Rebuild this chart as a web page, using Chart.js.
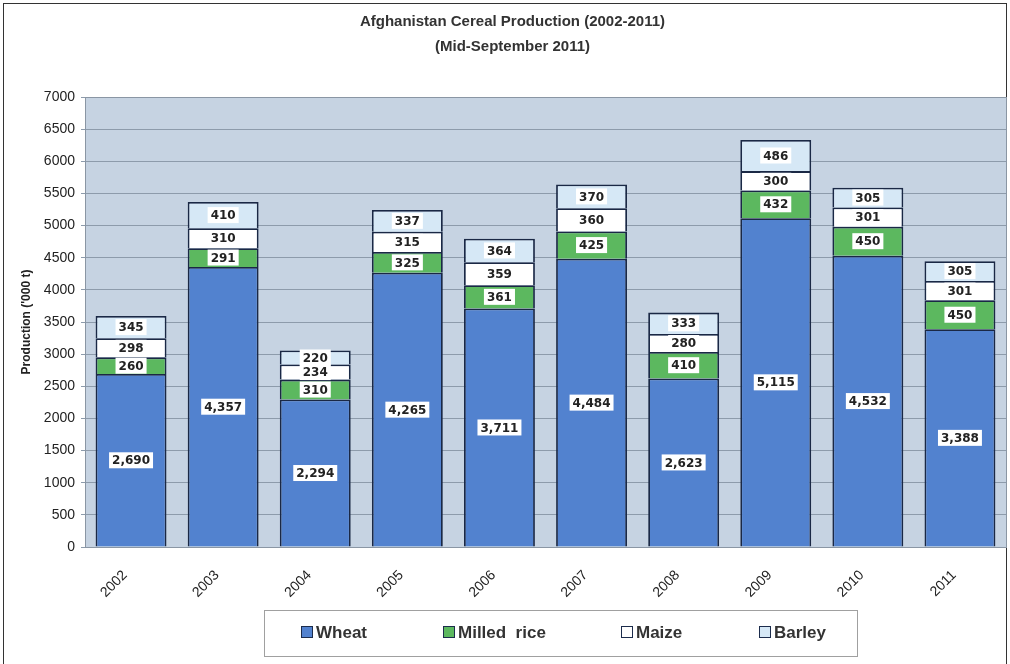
<!DOCTYPE html>
<html>
<head>
<meta charset="utf-8">
<script src="https://cdn.jsdelivr.net/npm/chart.js@4/dist/chart.umd.min.js"></script>
<style>
  html, body { margin: 0; padding: 0; background: #fff; }
  #wrap { position: relative; width: 1010px; height: 664px; }
  #legend { position: absolute; left: 264px; top: 610px; width: 592px; height: 45px; border: 1px solid #a0a0a0; font: bold 17px "Liberation Sans", Arial, sans-serif; color: #333; }
  #legend .item { position: absolute; top: 13px; white-space: pre; line-height: 18px; }
  #legend .box { display: inline-block; width: 10px; height: 10px; border: 1.5px solid #1c2c4c; margin-right: 3px; vertical-align: 0px; }
</style>
</head>
<body>
<div id="wrap">
  <canvas id="chart" width="1010" height="664"></canvas>
  <div id="legend"></div>
</div>
<script>
var years = ['2002', '2003', '2004', '2005', '2006', '2007', '2008', '2009', '2010', '2011'];
var wheat = [2690, 4357, 2294, 4265, 3711, 4484, 2623, 5115, 4532, 3388];
var milledRice = [260, 291, 310, 325, 361, 425, 410, 432, 450, 450];
var maize = [298, 310, 234, 315, 359, 360, 280, 300, 301, 301];
var barley = [345, 410, 220, 337, 364, 370, 333, 486, 305, 305];

var edge = '#1a2845';

// white boxes with the value in the middle of each segment
var segmentLabels = {
  id: 'segmentLabels',
  afterDatasetsDraw: function(chart) {
    var ctx = chart.ctx;
    ctx.save();
    ctx.font = 'bold 12px "DejaVu Sans"';
    ctx.textAlign = 'center';
    ctx.textBaseline = 'middle';
    chart.data.datasets.forEach(function(ds, i) {
      chart.getDatasetMeta(i).data.forEach(function(bar, j) {
        var txt = ds.data[j].toLocaleString('en-US');
        var cy = (bar.y + bar.base) / 2;
        var w = ctx.measureText(txt).width + 6;
        ctx.fillStyle = '#ffffff';
        ctx.fillRect(bar.x - w / 2, cy - 8, w, 16);
        ctx.fillStyle = '#222';
        ctx.fillText(txt, bar.x, cy + 1);
      });
    });
    ctx.restore();
  }
};

var frames = {
  id: 'frames',
  beforeDraw: function(chart) {
    var ctx = chart.ctx, a = chart.chartArea;
    ctx.save();
    ctx.fillStyle = '#c6d3e2';
    ctx.fillRect(a.left, a.top, a.right - a.left, a.bottom - a.top);
    ctx.restore();
  },
  afterDraw: function(chart) {
    var ctx = chart.ctx, a = chart.chartArea;
    ctx.save();
    ctx.strokeStyle = '#333';
    ctx.lineWidth = 1;
    ctx.strokeRect(3.5, 3.5, 1003, 670);
    ctx.strokeStyle = '#8a96a4';
    ctx.strokeRect(a.left + 0.5, a.top + 0.5, a.right - a.left, a.bottom - a.top);
    ctx.restore();
  }
};

var chart = new Chart(document.getElementById('chart').getContext('2d'), {
  type: 'bar',
  data: {
    labels: years,
    datasets: [
      { label: 'Wheat', data: wheat, backgroundColor: '#5282cf', borderColor: edge, borderWidth: 1.8 },
      { label: 'Milled  rice', data: milledRice, backgroundColor: '#5cb85f', borderColor: edge, borderWidth: 1.8 },
      { label: 'Maize', data: maize, backgroundColor: '#ffffff', borderColor: edge, borderWidth: 1.8 },
      { label: 'Barley', data: barley, backgroundColor: '#d6e8f6', borderColor: edge, borderWidth: 1.8 }
    ]
  },
  options: {
    responsive: false,
    animation: false,
    layout: { padding: { left: 19, right: 4, top: 0, bottom: 55 } },
    datasets: { bar: { barPercentage: 0.77, categoryPercentage: 1 } },
    plugins: {
      title: {
        display: true,
        text: ['Afghanistan Cereal Production (2002-2011)', '(Mid-September 2011)'],
        color: '#333',
        font: { family: 'Liberation Sans', size: 15, weight: 'bold', lineHeight: 1.7 },
        padding: { top: 9, bottom: 37 }
      },
      legend: { display: false },
      tooltip: { enabled: false }
    },
    scales: {
      x: {
        stacked: true,
        grid: { display: false },
        border: { color: '#8a96a4' },
        ticks: { color: '#222', font: { family: 'Liberation Sans', size: 14 }, minRotation: 45, maxRotation: 45, padding: 12, labelOffset: -6 },
        afterFit: function(s) { s.height = 62; }
      },
      y: {
        stacked: true,
        min: 0,
        max: 7000,
        ticks: {
          stepSize: 500, color: '#222', padding: 6,
          font: { family: 'Liberation Sans', size: 14 },
          callback: function(v) { return String(v); }
        },
        grid: { color: '#8d9bab', tickLength: 4 },
        border: { color: '#8a96a4' },
        title: { display: true, text: "Production ('000 t)", color: '#222', font: { family: 'Liberation Sans', size: 12, weight: 'bold' }, padding: 0 },
        afterFit: function(s) { s.width = 66; }
      }
    }
  },
  plugins: [frames, segmentLabels]
});

// legend below the plot, built from the datasets
var legendLeft = [36, 178, 356, 494];
var legendEl = document.getElementById('legend');
chart.data.datasets.forEach(function(ds, i) {
  var item = document.createElement('span');
  item.className = 'item';
  item.style.left = legendLeft[i] + 'px';
  var box = document.createElement('span');
  box.className = 'box';
  box.style.background = ds.backgroundColor;
  item.appendChild(box);
  item.appendChild(document.createTextNode(ds.label));
  legendEl.appendChild(item);
});
</script>
</body>
</html>
